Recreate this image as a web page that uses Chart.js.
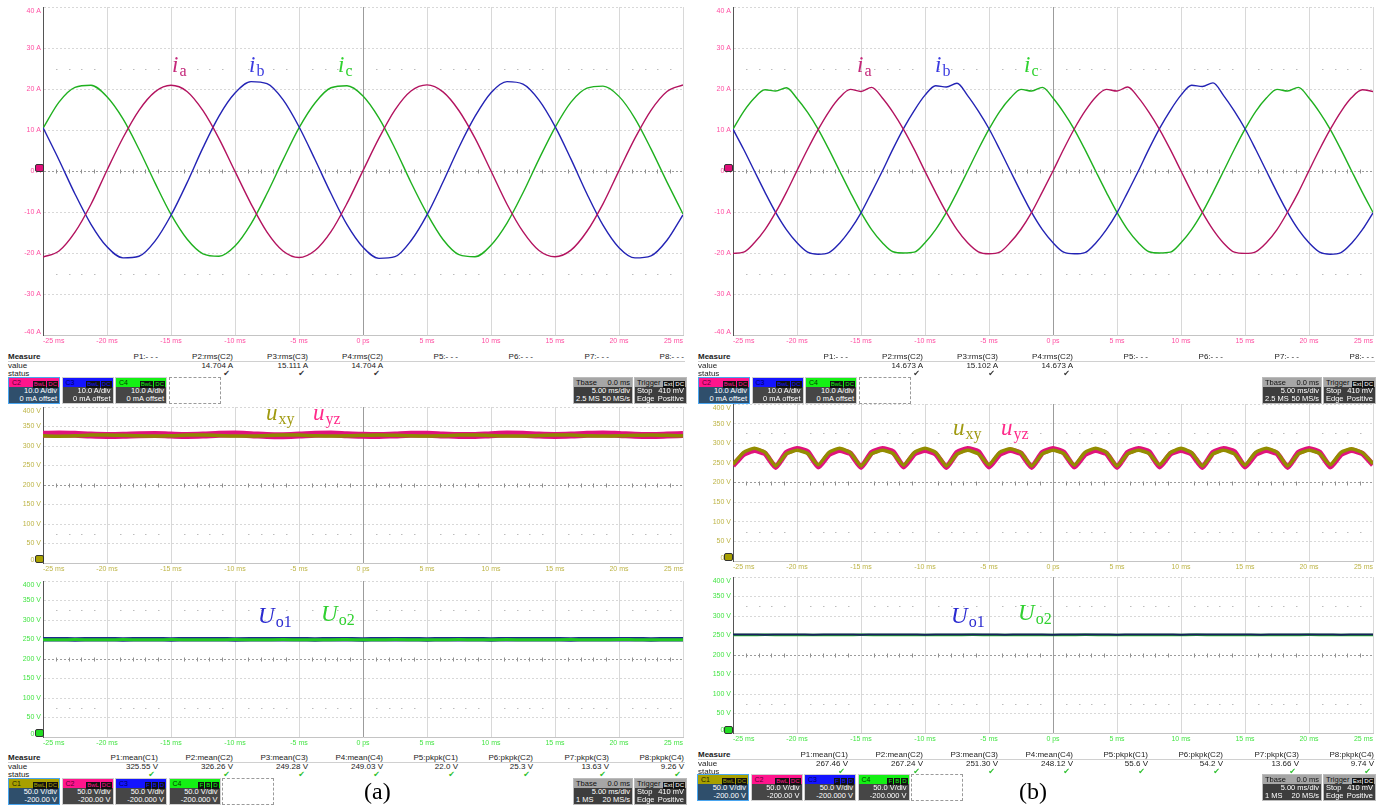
<!DOCTYPE html>
<html>
<head>
<meta charset="utf-8">
<script src="https://cdn.jsdelivr.net/npm/chart.js@4.4.1/dist/chart.umd.min.js"></script>
<style>
  body { margin: 0; width: 1386px; height: 805px; overflow: hidden; background: #fff; position: relative;
         font-family: "Liberation Sans", Arial, sans-serif; }
  canvas { position: absolute; }
  .t { position: absolute; font-size: 8px; line-height: 9px; color: #222; white-space: nowrap; }
  .b { font-weight: bold; }
  .chk { font-family: "DejaVu Sans", sans-serif; font-size: 8px; }
  .box { position: absolute; box-sizing: border-box; width: 52px; height: 27px; overflow: hidden; white-space: nowrap; }
  .strip { height: 9px; font-size: 7px; line-height: 9px; position: relative; padding-left: 3px; }
  .badges { position: absolute; right: 1px; top: 1px; }
  .badges span { background: #111; padding: 0 1px; margin-left: 1px; font-size: 6px; line-height: 7px; display: inline-block; }
  .body { color: #fff; font-size: 7.5px; line-height: 8.3px; text-align: right; padding-right: 2px; }
  .row { display: flex; justify-content: space-between; padding: 0 2px; white-space: nowrap; font-size: 7.5px; line-height: 8.3px; }
  .math { position: absolute; font-family: "Liberation Serif", "DejaVu Serif", serif; font-size: 23px; line-height: 22px; white-space: nowrap; }
  .math i { font-style: italic; }
  .math sub { font-style: normal; font-size: 16px; vertical-align: baseline; position: relative; top: 4px; margin-left: 1px; }
  .mark { position: absolute; width: 9px; height: 8px; border: 1px solid #333; border-radius: 2px; box-sizing: border-box; }
  .cap { position: absolute; font-family: "Liberation Serif", serif; font-size: 24px; line-height: 24px; }
</style>
</head>
<body>
<canvas id="aTop" width="698" height="345" style="left:0;top:2px"></canvas>
<canvas id="aMid" width="698" height="173" style="left:0;top:402px"></canvas>
<canvas id="aBot" width="698" height="173" style="left:0;top:576px"></canvas>
<canvas id="bTop" width="698" height="345" style="left:690px;top:2px"></canvas>
<canvas id="bMid" width="698" height="174" style="left:690px;top:399px"></canvas>
<canvas id="bBot" width="698" height="173" style="left:690px;top:572px"></canvas>

<script>
// ---- time bases (ms) ----
const tA = [-25, -23.75, -22.5, -21.25, -20, -18.75, -17.5, -16.25, -15, -13.75, -12.5, -11.25, -10, -8.75, -7.5, -6.25, -5, -3.75, -2.5, -1.25,
  0, 1.25, 2.5, 3.75, 5, 6.25, 7.5, 8.75, 10, 11.25, 12.5, 13.75, 15, 16.25, 17.5, 18.75, 20, 21.25, 22.5, 23.75, 25];
const tB = [-25, -24.17, -23.33, -22.5, -21.67, -20.83, -20, -19.17, -18.33, -17.5, -16.67, -15.83, -15, -14.17, -13.33, -12.5,
  -11.67, -10.83, -10, -9.17, -8.33, -7.5, -6.67, -5.83, -5, -4.17, -3.33, -2.5, -1.67, -0.83, 0, 0.83, 1.67, 2.5, 3.33, 4.17,
  5, 5.83, 6.67, 7.5, 8.33, 9.17, 10, 10.83, 11.67, 12.5, 13.33, 14.17, 15, 15.83, 16.67, 17.5, 18.33, 19.17, 20, 20.83, 21.67,
  22.5, 23.33, 24.17, 25];

// ---- panel (a) phase currents, A ----
const iaA = [-21.0, -19.5, -14.9, -8.1, 0.2, 8.1, 14.8, 19.3, 20.9, 19.4, 14.7, 7.9, -0.1, -8.0, -14.9, -19.5,
  -21.1, -19.4, -14.8, -7.9, 0.1, 8.0, 14.9, 19.5, 21.0, 19.3, 14.7, 8.0, 0.0, -8.1, -14.8, -19.4,
  -20.9, -19.3, -14.7, -8.0, 0.1, 8.0, 14.8, 19.4, 21.0];
const ibA = [10.6, 2.7, -5.6, -13.0, -18.5, -21.2, -20.8, -17.1, -10.8, -2.9, 5.7, 13.4, 19.0, 21.8, 21.3, 17.4,
  10.8, 2.8, -5.5, -13.1, -18.6, -21.3, -20.9, -17.0, -10.7, -2.7, 5.8, 13.3, 19.1, 21.8, 21.2, 17.3,
  10.9, 2.9, -5.6, -13.2, -18.7, -21.2, -20.7, -16.9, -10.7];
const icA = [10.4, 16.8, 20.4, 20.9, 18.1, 12.7, 5.3, -2.9, -10.6, -16.6, -20.2, -20.8, -18.3, -12.9, -5.5, 2.7,
  10.5, 16.6, 20.3, 20.8, 18.3, 12.9, 5.5, -2.8, -10.4, -16.7, -20.4, -20.9, -18.1, -12.7, -5.3, 2.9,
  10.6, 16.8, 20.2, 20.7, 18.2, 12.8, 5.4, -2.7, -10.5];

// ---- panel (b) phase currents, A ----
const iaB = [-20.1, -19.8, -17.5, -14.3, -10.1, -5.2, 0.1, 5.3, 10.2, 14.5, 17.9, 19.9,
  19.4, 20.4, 17.8, 14.3, 10.1, 5.2, -0.1, -5.2, -10.1, -14.3, -17.5, -19.7,
  -20.2, -19.8, -17.4, -14.2, -10.1, -5.1, 0.0, 5.3, 10.3, 14.6, 18.0, 19.9,
  19.5, 20.5, 17.9, 14.3, 10.1, 5.2, 0.0, -5.2, -10.1, -14.3, -17.6, -19.8,
  -20.1, -19.7, -17.5, -14.3, -10.0, -5.2, 0.1, 5.3, 10.2, 14.5, 17.9, 19.8, 19.4];
const ibB = [10.2, 5.3, 0.0, -5.2, -10.1, -14.3, -17.5, -19.8, -20.3, -19.9, -17.6, -14.3,
  -10.2, -5.2, 0.0, 5.4, 10.4, 14.8, 18.5, 20.8, 20.5, 21.4, 18.4, 14.6,
  10.3, 5.3, 0.0, -5.2, -10.1, -14.3, -17.5, -19.8, -20.2, -19.9, -17.6, -14.3,
  -10.2, -5.2, 0.0, 5.4, 10.4, 14.8, 18.5, 20.9, 20.6, 21.5, 18.4, 14.6,
  10.3, 5.3, 0.0, -5.2, -10.1, -14.3, -17.5, -19.8, -20.3, -19.9, -17.6, -14.3, -10.2];
const icB = [10.2, 14.5, 17.8, 19.8, 19.5, 20.3, 17.7, 14.3, 10.1, 5.2, 0.0, -5.2,
  -10.1, -14.3, -17.5, -19.7, -20.0, -19.8, -17.5, -14.3, -10.1, -5.2, 0.0, 5.3,
  10.2, 14.5, 17.8, 19.9, 19.5, 20.4, 17.8, 14.3, 10.1, 5.2, 0.0, -5.2,
  -10.1, -14.3, -17.5, -19.7, -20.0, -19.8, -17.5, -14.3, -10.1, -5.2, 0.0, 5.3,
  10.2, 14.5, 17.8, 19.9, 19.5, 20.4, 17.8, 14.3, 10.1, 5.2, 0.0, -5.2, -10.1];

// ---- line voltages, V ----
const uxyA = [326, 325, 326, 328, 328.5, 327.5, 326, 325.5, 326.5, 328, 328.5, 327, 325.5, 325.5, 327, 328.5, 328, 326.5, 325.5, 326,
  327.5, 328.5, 327.5, 326, 325.5, 326.5, 328, 328.5, 327, 325.5, 325.5, 327, 328.5, 328, 326.5, 325.5, 326, 327.5, 328.5, 327.5, 326];
const uyzA = [330, 331, 330, 328, 327, 327.5, 329, 329.5, 328, 327, 328, 330, 330.5, 329, 327, 326.5, 328, 330, 330.5, 329,
  327.5, 327, 328.5, 330, 330, 328.5, 327, 327, 329, 330.5, 330, 328, 327, 328, 330, 331, 329.5, 327.5, 327, 328, 329.5];
const uxyB = [246, 277, 287, 277, 242, 273, 282, 274, 245, 277, 287, 276, 242, 273, 282, 274, 244, 277, 287, 277,
  242, 272, 282, 273, 245, 277, 286, 276, 242, 273, 282, 274, 244, 277, 287, 277, 242, 273, 282, 274,
  245, 276, 287, 276, 242, 273, 282, 273, 244, 277, 287, 277, 242, 273, 282, 274, 245, 277, 286, 276, 248];
const uyzB = [243, 272, 282, 274, 239, 276, 286, 278, 240, 272, 282, 274, 239, 276, 286, 278, 240, 273, 282, 273,
  239, 276, 286, 278, 240, 272, 282, 274, 239, 276, 286, 277, 240, 272, 282, 274, 239, 276, 286, 278,
  240, 273, 282, 273, 239, 276, 286, 278, 240, 272, 282, 274, 239, 276, 286, 277, 240, 272, 282, 274, 245];

// ---- dc output voltages, V ----
const uo1A = [250.5, 250.8, 250.2, 250.6, 250.9, 250.3, 250.5, 250.7, 250.2, 250.6, 250.4, 250.8, 250.3, 250.5, 250.9, 250.4, 250.6, 250.2, 250.7, 250.5,
  250.3, 250.8, 250.4, 250.6, 250.2, 250.7, 250.5, 250.9, 250.3, 250.6, 250.4, 250.8, 250.5, 250.3, 250.7, 250.4, 250.6, 250.8, 250.3, 250.5, 250.6];
const uo2A = [249.6, 249.4, 249.8, 249.5, 249.3, 249.7, 249.5, 249.4, 249.8, 249.6, 249.3, 249.5, 249.7, 249.4, 249.6, 249.8, 249.5, 249.3, 249.6, 249.7,
  249.4, 249.5, 249.8, 249.6, 249.3, 249.5, 249.7, 249.4, 249.6, 249.8, 249.5, 249.3, 249.6, 249.7, 249.4, 249.5, 249.8, 249.6, 249.4, 249.5, 249.6];
const uo1B = [252.3, 252.6, 252.1, 252.5, 252.7, 252.2, 252.4, 252.6, 252.1, 252.5, 252.3, 252.7, 252.2, 252.4, 252.6, 252.3, 252.5, 252.1, 252.6, 252.4,
  252.2, 252.7, 252.3, 252.5, 252.1, 252.6, 252.4, 252.7, 252.2, 252.5, 252.3, 252.6, 252.4, 252.2, 252.6, 252.3, 252.5, 252.7, 252.2, 252.4, 252.5];
const uo2B = [251.5, 251.3, 251.7, 251.4, 251.2, 251.6, 251.4, 251.3, 251.7, 251.5, 251.2, 251.4, 251.6, 251.3, 251.5, 251.7, 251.4, 251.2, 251.5, 251.6,
  251.3, 251.4, 251.7, 251.5, 251.2, 251.4, 251.6, 251.3, 251.5, 251.7, 251.4, 251.2, 251.5, 251.6, 251.3, 251.4, 251.7, 251.5, 251.3, 251.4, 251.5];

// ---- tick labels ----
const xTickValues = [-25, -20, -15, -10, -5, 0, 5, 10, 15, 20, 25];
const xTickLabels = ["-25 ms", "-20 ms", "-15 ms", "-10 ms", "-5 ms", "0 ps", "5 ms", "10 ms", "15 ms", "20 ms", "25 ms"];
const yValuesA = [40, 30, 20, 10, 0, -10, -20, -30, -40];
const yLabelsA = ["40 A", "30 A", "20 A", "10 A", "0 A", "-10 A", "-20 A", "-30 A", "-40 A"];
const yValuesV = [400, 350, 300, 250, 200, 150, 100, 50, 0];
const yLabelsV = ["400 V", "350 V", "300 V", "250 V", "200 V", "150 V", "100 V", "50 V", "0 V"];

// ---- measurement readouts ----
const measNamesTop = ["P1:- - -", "P2:rms(C2)", "P3:rms(C3)", "P4:rms(C2)", "P5:- - -", "P6:- - -", "P7:- - -", "P8:- - -"];
const measValsTopA = ["", "14.704 A", "15.111 A", "14.704 A", "", "", "", ""];
const measValsTopB = ["", "14.673 A", "15.102 A", "14.673 A", "", "", "", ""];
const measNamesBot = ["P1:mean(C1)", "P2:mean(C2)", "P3:mean(C3)", "P4:mean(C4)", "P5:pkpk(C1)", "P6:pkpk(C2)", "P7:pkpk(C3)", "P8:pkpk(C4)"];
const measValsBotA = ["325.55 V", "326.26 V", "249.28 V", "249.03 V", "22.0 V", "25.3 V", "13.63 V", "9.26 V"];
const measValsBotB = ["267.46 V", "267.24 V", "251.30 V", "248.12 V", "55.6 V", "54.2 V", "13.66 V", "9.74 V"];
const chanTop = [
  { ch: "C2", color: "#ff148c", ink: "#5a0030", badges: ["BwL", "DC"], lines: ["10.0 A/div", "0 mA offset"], sel: true },
  { ch: "C3", color: "#1414ff", ink: "#000060", badges: ["BwL", "DC"], lines: ["10.0 A/div", "0 mA offset"] },
  { ch: "C4", color: "#14f014", ink: "#004000", badges: ["BwL", "DC"], lines: ["10.0 A/div", "0 mA offset"] }];
const chanBot = [
  { ch: "C1", color: "#a8a000", ink: "#202000", badges: ["BwL", "DC"], lines: ["50.0 V/div", "-200.00 V"], sel: true },
  { ch: "C2", color: "#ff148c", ink: "#5a0030", badges: ["BwL", "DC"], lines: ["50.0 V/div", "-200.00 V"] },
  { ch: "C3", color: "#1414ff", ink: "#000060", badges: ["F", "B", "D"], lines: ["50.0 V/div", "-200.000 V"] },
  { ch: "C4", color: "#14f014", ink: "#004000", badges: ["F", "B", "D"], lines: ["50.0 V/div", "-200.000 V"] }];
const tbaseTop = ["0.0 ms", "5.00 ms/div", "2.5 MS", "50 MS/s"];
const tbaseBot = ["0.0 ms", "5.00 ms/div", "1 MS", "20 MS/s"];
const trigger = ["410 mV", "Positive"];

// ---- scope style drawing helpers ----
const scopeDecor = {
  id: "scopeDecor",
  beforeDatasetsDraw(chart) {
    const { ctx, scales: { x, y } } = chart;
    const span = y.max - y.min;
    ctx.save();
    ctx.fillStyle = "#bcbcbc";
    [y.max - span * 3 / 16, y.min + span * 3 / 16].forEach(v => {
      const py = Math.round(y.getPixelForValue(v));
      for (let t = -24; t <= 24; t++) {
        if (t % 5 === 0) continue;
        ctx.fillRect(Math.round(x.getPixelForValue(t)), py, 1.5, 1);
      }
    });
    const cy = Math.round(y.getPixelForValue((y.max + y.min) / 2)) + 0.5;
    ctx.strokeStyle = "#909090";
    ctx.lineWidth = 1;
    ctx.beginPath();
    for (let t = -24; t <= 24; t++) {
      if (t % 5 === 0) continue;
      const px = Math.round(x.getPixelForValue(t)) + 0.5;
      ctx.moveTo(px, cy - 2); ctx.lineTo(px, cy + 2);
    }
    ctx.stroke();
    ctx.restore();
  }
};

const scopeLabels = {
  id: "scopeLabels",
  afterDraw(chart, args, opts) {
    const { ctx, chartArea: a, scales: { x, y } } = chart;
    ctx.save();
    ctx.font = '7px "Liberation Sans", Arial, sans-serif';
    ctx.fillStyle = opts.color;
    ctx.textAlign = "left";
    ctx.textBaseline = "top";
    xTickLabels.forEach((lab, i) => {
      const px = x.getPixelForValue(xTickValues[i]);
      const w = ctx.measureText(lab).width;
      ctx.fillText(lab, Math.min(Math.max(px - w / 2, a.left), a.right - w), a.bottom + 3);
    });
    ctx.textAlign = "right";
    ctx.textBaseline = "middle";
    opts.yLabels.forEach((lab, i) => {
      const py = y.getPixelForValue(opts.yValues[i]);
      ctx.fillText(lab, a.left - 2, Math.min(Math.max(py, a.top + 4), a.bottom - 3));
    });
    ctx.restore();
  }
};

function scope(id, o) {
  const gridCol = v => ctx => (ctx.tick && ctx.tick.value === v ? "#9c9c9c" : "#d8d8d8");
  return new Chart(document.getElementById(id), {
    type: "line",
    data: {
      datasets: o.series.map(s => ({
        data: s.t.map((t, i) => ({ x: t, y: s.v[i] })),
        borderColor: s.color,
        borderWidth: s.w,
        pointRadius: 0,
        tension: s.tension || 0,
        cubicInterpolationMode: s.mono ? "monotone" : "default",
        order: s.order || 0
      }))
    },
    options: {
      responsive: false,
      animation: false,
      devicePixelRatio: 1,
      events: [],
      layout: { autoPadding: false, padding: { top: 5, right: 15, left: 0, bottom: 0 } },
      plugins: {
        legend: { display: false },
        tooltip: { enabled: false },
        scopeLabels: { color: o.tickColor, yLabels: o.yLabels, yValues: o.yValues }
      },
      scales: {
        x: {
          type: "linear", min: -25, max: 25,
          ticks: { display: false, stepSize: 5 },
          grid: { color: gridCol(0), drawTicks: false, lineWidth: 1 },
          border: { display: true, color: "#c4c4c4" },
          afterFit: s => { s.height = 12; }
        },
        y: {
          min: o.min, max: o.max,
          ticks: { display: false, stepSize: o.step },
          grid: { color: gridCol((o.min + o.max) / 2), drawTicks: false, lineWidth: 1 },
          border: { display: true, color: "#555", dash: [2, 2] },
          afterFit: s => { s.width = 43; }
        }
      }
    },
    plugins: [scopeDecor, scopeLabels]
  });
}

const pinkTick = "#ff4ea2", oliveTick = "#bdb446", greenTick = "#45e445";
const curCols = { a: "#b3135f", b: "#2323b4", c: "#1fb01f" };

[["aTop", iaA, ibA, icA, tA], ["bTop", iaB, ibB, icB, tB]].forEach(([id, ia, ib, ic, t]) => {
  scope(id, {
    min: -40, max: 40, step: 10, tickColor: pinkTick, yLabels: yLabelsA, yValues: yValuesA,
    series: [
      { t, v: ia, color: curCols.a, w: 1.4, mono: true },
      { t, v: ib, color: curCols.b, w: 1.4, mono: true },
      { t, v: ic, color: curCols.c, w: 1.4, mono: true }
    ]
  });
});

scope("aMid", {
  min: 0, max: 400, step: 50, tickColor: oliveTick, yLabels: yLabelsV, yValues: yValuesV,
  series: [
    { t: tA, v: uxyA, color: "#8e8800", w: 3.5, mono: true, order: 0 },
    { t: tA, v: uyzA, color: "#e0137c", w: 7, mono: true, order: 1 }
  ]
});
scope("bMid", {
  min: 0, max: 400, step: 50, tickColor: oliveTick, yLabels: yLabelsV, yValues: yValuesV,
  series: [
    { t: tB, v: uxyB, color: "#938d00", w: 3.5, tension: 0.15, order: 0 },
    { t: tB, v: uyzB, color: "#e0137c", w: 5.5, tension: 0.15, order: 1 }
  ]
});
scope("aBot", {
  min: 0, max: 400, step: 50, tickColor: greenTick, yLabels: yLabelsV, yValues: yValuesV,
  series: [
    { t: tA, v: uo1A, color: "#1c2a8c", w: 4.5, mono: true, order: 1 },
    { t: tA, v: uo2A, color: "#22c822", w: 3, mono: true, order: 0 }
  ]
});
scope("bBot", {
  min: 0, max: 400, step: 50, tickColor: greenTick, yLabels: yLabelsV, yValues: yValuesV,
  series: [
    { t: tA, v: uo1B, color: "#1a2060", w: 2, mono: true, order: 0 },
    { t: tA, v: uo2B, color: "#22c822", w: 2.5, mono: true, order: 1 }
  ]
});

// ---- html readouts ----
function el(tag, cls, css, text) {
  const d = document.createElement(tag);
  if (cls) d.className = cls;
  if (css) Object.assign(d.style, css);
  if (text !== undefined) d.textContent = text;
  return d;
}
function txt(x, y, s, cls, right) {
  const d = el("div", "t " + (cls || ""), { top: y + "px" }, s);
  if (right) d.style.right = (1386 - x) + "px"; else d.style.left = x + "px";
  document.body.appendChild(d);
  return d;
}
const colRight = [158, 233, 308, 383, 458, 533, 609, 684];

function measure(ox, oy, names, vals, checkColor) {
  txt(ox + 8, oy, "Measure", "b");
  document.body.appendChild(el("div", "", { position: "absolute", left: ox + 8 + "px", top: oy + 9 + "px", width: "677px", height: "1px", background: "#d0d0d0" }));
  txt(ox + 8, oy + 9, "value");
  txt(ox + 8, oy + 17, "status");
  names.forEach((n, i) => {
    const r = ox + colRight[i];
    txt(r, oy, n, "", true);
    if (vals[i]) {
      txt(r, oy + 9, vals[i], "", true);
      const c = txt(r - 3, oy + 17, "\u2714", "chk", true);
      c.style.color = checkColor;
    }
  });
}

function chanBoxes(x0, y, list) {
  list.forEach((c, i) => {
    const box = el("div", "box", {
      left: x0 + i * 53.5 + "px", top: y + "px",
      border: c.sel ? "1.5px solid #4aa6f0" : "1px solid #cfcfcf",
      background: c.sel ? "#2f4f6c" : "#464646"
    });
    const strip = el("div", "strip", { background: c.color, color: c.ink }, c.ch);
    const bd = el("div", "badges");
    c.badges.forEach(b => bd.appendChild(el("span", "", { color: c.color }, b)));
    strip.appendChild(bd);
    box.appendChild(strip);
    c.lines.forEach(l => box.appendChild(el("div", "body", {}, l)));
    document.body.appendChild(box);
  });
  document.body.appendChild(el("div", "", {
    position: "absolute", left: x0 + list.length * 53.5 + "px", top: y + "px",
    width: "52px", height: "27px", border: "1px dashed #9a9a9a", boxSizing: "border-box"
  }));
}

function timeBoxes(x, y, w1, w2, tb) {
  const tbox = el("div", "box", { left: x + "px", top: y + "px", width: w1 + "px", background: "#3d3d3d", border: "1px solid #bbb" });
  const h1 = el("div", "row", { background: "#a6a6a6", color: "#111", height: "9px", lineHeight: "9px" });
  h1.appendChild(el("span", "", {}, "Tbase"));
  h1.appendChild(el("span", "", {}, tb[0]));
  tbox.appendChild(h1);
  tbox.appendChild(el("div", "body", {}, tb[1]));
  const r2 = el("div", "row", { color: "#fff" });
  r2.appendChild(el("span", "", {}, tb[2]));
  r2.appendChild(el("span", "", {}, tb[3]));
  tbox.appendChild(r2);
  document.body.appendChild(tbox);

  const gbox = el("div", "box", { left: x + w1 + 1 + "px", top: y + "px", width: w2 + "px", background: "#3d3d3d", border: "1px solid #bbb" });
  const h2 = el("div", "row", { background: "#a6a6a6", color: "#111", height: "9px", lineHeight: "9px", position: "relative" });
  h2.appendChild(el("span", "", {}, "Trigger"));
  const bd = el("div", "badges");
  ["Ext", "DC"].forEach(b => bd.appendChild(el("span", "", { color: "#fff" }, b)));
  h2.appendChild(bd);
  gbox.appendChild(h2);
  [["Stop", trigger[0]], ["Edge", trigger[1]]].forEach(([l, r]) => {
    const row = el("div", "row", { color: "#fff" });
    row.appendChild(el("span", "", {}, l));
    row.appendChild(el("span", "", {}, r));
    gbox.appendChild(row);
  });
  document.body.appendChild(gbox);
}

measure(0, 352, measNamesTop, measValsTopA, "#333");
measure(690, 352, measNamesTop, measValsTopB, "#333");
measure(0, 753, measNamesBot, measValsBotA, "#2cbf2c");
measure(690, 750, measNamesBot, measValsBotB, "#2cbf2c");
chanBoxes(8, 377, chanTop);
chanBoxes(698, 377, chanTop);
chanBoxes(8, 778, chanBot);
chanBoxes(697, 774, chanBot);
timeBoxes(573, 377, 60, 53, tbaseTop);
timeBoxes(1262, 377, 60, 53, tbaseTop);
timeBoxes(573, 778, 60, 53, tbaseBot);
timeBoxes(1262, 774, 60, 53, tbaseBot);

// ---- channel ground markers ----
[[35, 164, "#e0107a"], [724, 164, "#e0107a"], [35, 555, "#a8a000"], [724, 553, "#a8a000"], [35, 729, "#22dd22"], [724, 726, "#22dd22"]]
  .forEach(([x, y, c]) => document.body.appendChild(el("div", "mark", { left: x + "px", top: y + "px", background: c })));

// ---- trace annotations ----
function mathLabel(x, baseline, main, sub, color) {
  const d = el("div", "math", { left: x + "px", top: baseline - 18 + "px", color });
  d.appendChild(el("i", "", {}, main));
  d.appendChild(el("sub", "", {}, sub));
  document.body.appendChild(d);
}
mathLabel(172, 72, "i", "a", "#c4287a");
mathLabel(249, 72, "i", "b", "#3a3ae0");
mathLabel(338, 72, "i", "c", "#2fd22f");
mathLabel(857, 72, "i", "a", "#c4287a");
mathLabel(935, 72, "i", "b", "#3a3ae0");
mathLabel(1024, 72, "i", "c", "#2fd22f");
mathLabel(266, 420, "u", "xy", "#a09a10");
mathLabel(313, 420, "u", "yz", "#ff2a8a");
mathLabel(953, 435, "u", "xy", "#a09a10");
mathLabel(1001, 435, "u", "yz", "#ff2a8a");
mathLabel(258, 623, "U", "o1", "#2a2ad0");
mathLabel(321, 621, "U", "o2", "#30d030");
mathLabel(951, 623, "U", "o1", "#2a2ad0");
mathLabel(1018, 620, "U", "o2", "#30d030");

document.body.appendChild(el("div", "cap", { left: "364px", top: "779px" }, "(a)"));
document.body.appendChild(el("div", "cap", { left: "1019px", top: "779px" }, "(b)"));
</script>
</body>
</html>
